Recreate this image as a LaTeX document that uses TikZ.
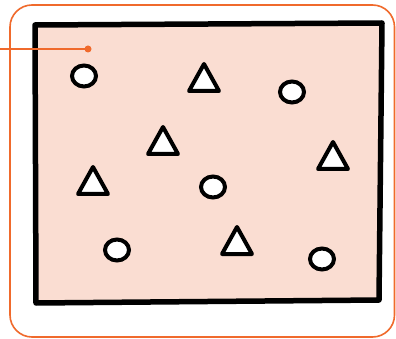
\documentclass[tikz,border=0pt]{standalone}
\usetikzlibrary{shapes.geometric}
\definecolor{frameorange}{HTML}{F06A2C}
\definecolor{boxfill}{HTML}{FADDD2}
\tikzset{
  dot/.style={draw=black, line width=4pt, fill=white, ellipse, minimum width=24pt, minimum height=21pt, inner sep=0pt},
  tri/.style={draw=black, line width=4pt, fill=white, line join=round},
}
\begin{document}
\begin{tikzpicture}[x=1pt,y=-1pt]
\useasboundingbox (0,0) rectangle (396,339);
\fill[white] (0,0) rectangle (396,339);
% orange frame
\draw[frameorange, line width=1.6pt, rounded corners=22pt] (10,5) rectangle (394.5,337);
% box
\draw[black, line width=5.5pt, fill=boxfill, line join=round]
  (35,25) -- (382,23) -- (379,300) -- (36,303) -- cycle;
% leader
\coordinate (lead) at (0,49);
\node[circle, fill=frameorange, inner sep=0pt, minimum size=7pt] (pin) at (88,49) {};
\draw[frameorange, line width=1.6pt] (lead) -- (pin.center);
% circles
\node[dot] (c1) at (84,76) {};
\node[dot] (c2) at (292,92) {};
\node[dot] (c3) at (213,187) {};
\node[dot] (c4) at (117,250) {};
\node[dot] (c5) at (322,259) {};
% triangles
\foreach \n/\x/\y in {t1/204/80, t2/163/143, t3/93/183, t4/333/158, t5/237/243}{
  \draw[tri] (\x,\y-16) -- (\x+15,\y+11) -- (\x-15,\y+11) -- cycle;
}
\end{tikzpicture}
\end{document}
